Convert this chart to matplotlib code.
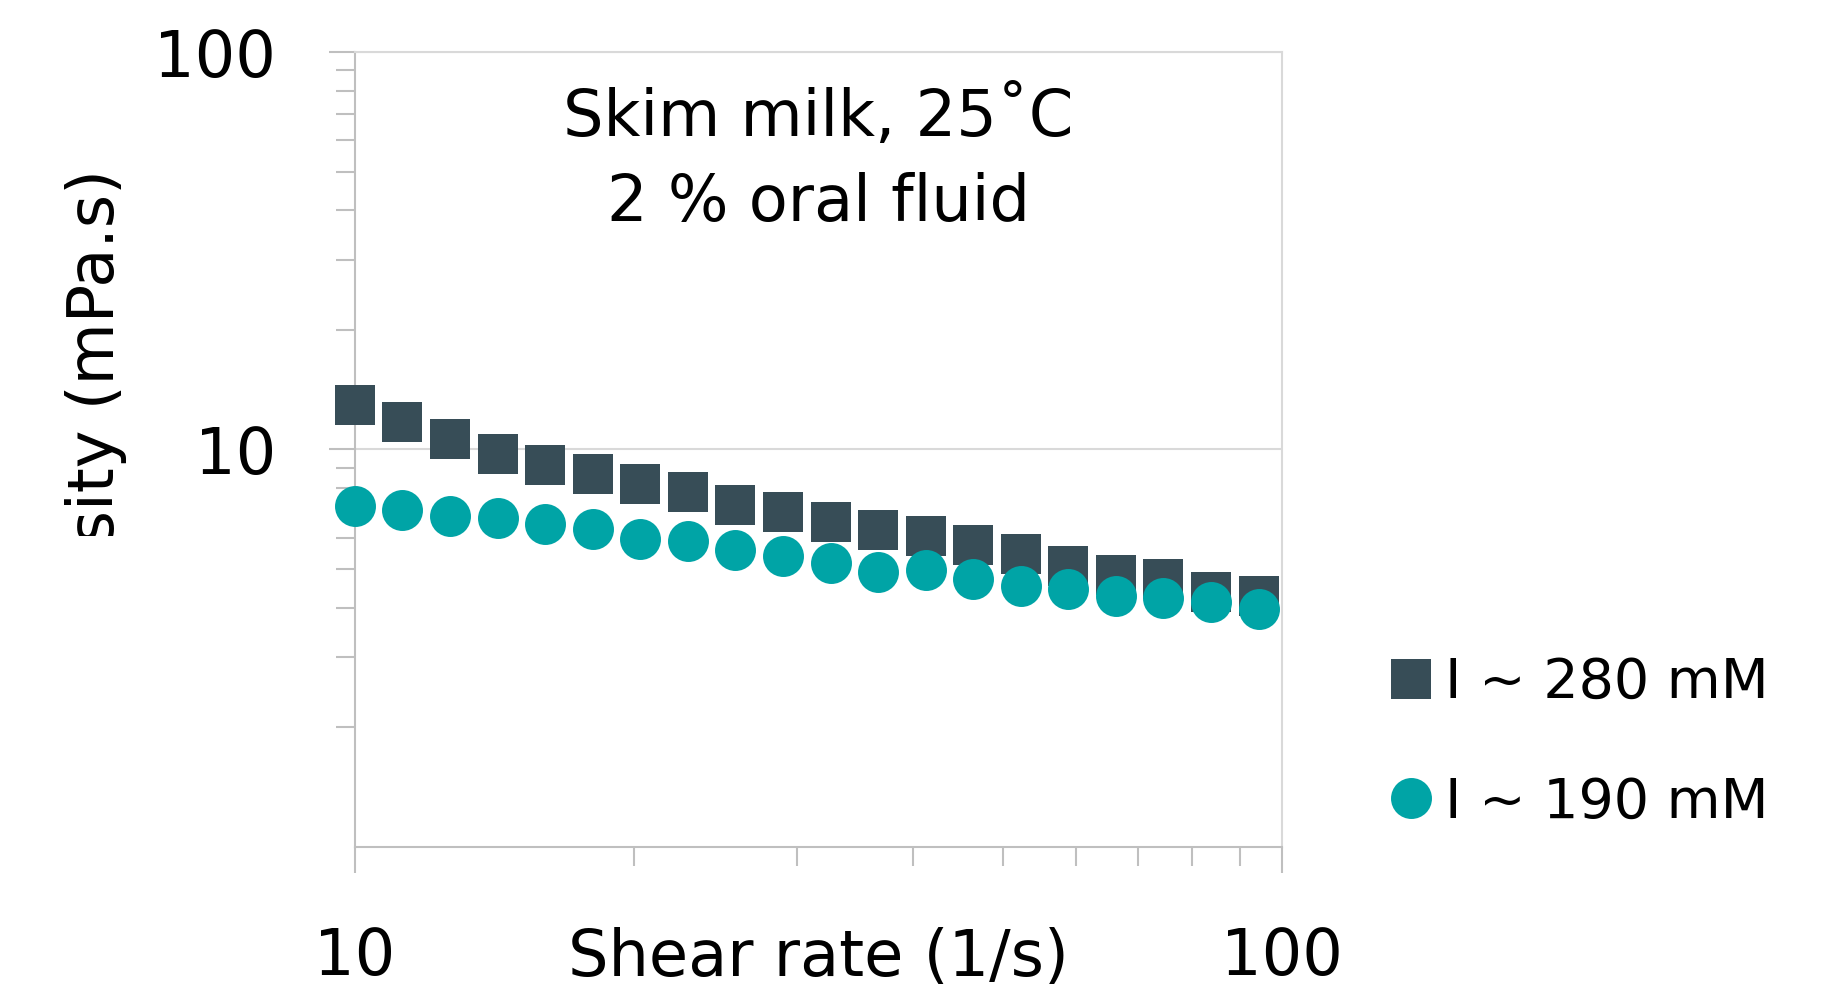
import numpy as np
import matplotlib
matplotlib.use('Agg')
import matplotlib.pyplot as plt
from matplotlib.ticker import NullFormatter, FixedLocator
from matplotlib.transforms import Bbox, TransformedBbox

plt.rcParams['font.family'] = ['DejaVu Sans']

# data
shear_rate = [10.0, 11.25, 12.66, 14.25, 16.04, 18.05, 20.31, 22.86, 25.72, 28.95,
              32.58, 36.66, 41.26, 46.44, 52.26, 58.81, 66.19, 74.49, 83.83, 94.34]
visc_280 = [12.91, 11.76, 10.65, 9.72, 9.16, 8.69, 8.20, 7.81, 7.26, 6.96,
            6.57, 6.28, 6.07, 5.74, 5.45, 5.08, 4.82, 4.71, 4.39, 4.29]
visc_190 = [7.22, 7.04, 6.81, 6.74, 6.50, 6.30, 5.97, 5.89, 5.59, 5.40,
            5.19, 4.93, 4.97, 4.71, 4.54, 4.45, 4.29, 4.24, 4.13, 3.98]
labels = ['I ~ 280 mM', 'I ~ 190 mM']
title_lines = 'Skim milk, 25\u02daC\n2 % oral fluid'

W, H = 1827, 996
fig = plt.figure(figsize=(W/100, H/100), dpi=100)
ax = fig.add_axes([355/W, 1-847/H, (1282-355)/W, (847-52)/H])

ax.plot(shear_rate, visc_280, ls='none', marker='s', ms=29.5, color='#374d57',
        mew=0, label=labels[0], zorder=3, clip_on=False)
ax.plot(shear_rate, visc_190, ls='none', marker='o', ms=29.5, color='#00a4a6',
        mew=0, label=labels[1], zorder=4, clip_on=False)

ax.set_xscale('log')
ax.set_yscale('log')
ax.set_xlim(10, 100)
ax.set_ylim(1, 100)

ax.set_xticks([10, 100], ['10', '100'])
ax.set_yticks([10, 100], ['10', '100'])
ax.xaxis.set_minor_locator(FixedLocator([20, 30, 40, 50, 60, 70, 80, 90]))
ax.yaxis.set_minor_locator(FixedLocator([2, 3, 4, 5, 6, 7, 8, 9, 20, 30, 40, 50, 60, 70, 80, 90]))
ax.xaxis.set_minor_formatter(NullFormatter())
ax.yaxis.set_minor_formatter(NullFormatter())

ax.tick_params(which='major', length=18.7, width=1.5, color='#bfbfbf', labelsize=46)
ax.tick_params(which='minor', length=13.7, width=1.5, color='#bfbfbf')
ax.tick_params(axis='x', which='major', pad=38)
ax.tick_params(axis='y', which='major', pad=38)

ax.grid(axis='y', which='major', color='#d9d9d9', lw=1.5)
ax.set_axisbelow(True)
for s in ['left', 'bottom']:
    ax.spines[s].set_color('#bfbfbf')
    ax.spines[s].set_linewidth(1.5)
for s in ['top', 'right']:
    ax.spines[s].set_color('#d9d9d9')
    ax.spines[s].set_linewidth(1.5)

ax.text(0.5, 1-(958-52)/(847-52), 'Shear rate (1/s)', transform=ax.transAxes,
        ha='center', va='center', fontsize=46)
ax.text(0.5, 1-(160-52)/(847-52), title_lines, transform=ax.transAxes,
        ha='center', va='center', fontsize=46, linespacing=1.47)

# y label is cut off in the original
yl = fig.text(96/W, 1-169/H, 'Viscosity (mPa.s)', rotation=90, ha='center', va='top',
              fontsize=46)
yl.set_clip_box(TransformedBbox(Bbox([[0, 1-536/H], [1, 1]]), fig.transFigure))
yl.set_clip_on(True)

leg = ax.legend(loc='upper left', bbox_to_anchor=(1383/W, 1-656/H),
                bbox_transform=fig.transFigure, frameon=False, fontsize=40,
                handlelength=1.0, handletextpad=0.12, labelspacing=1.18,
                borderpad=0, borderaxespad=0)

fig.savefig('out.png', dpi=100)
